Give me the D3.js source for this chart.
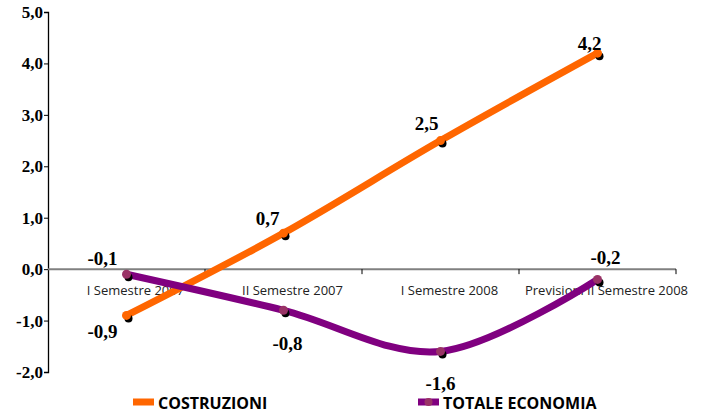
<!DOCTYPE html>
<html>
<head>
<meta charset="utf-8">
<script src="https://cdn.jsdelivr.net/npm/d3@7"></script>
<style>
  body { margin: 0; background: #fff; }
  svg { display: block; }
</style>
</head>
<body>
<svg id="chart" width="704" height="413"></svg>
<script>
// Semester categories and the two series (% change)
const categories = ["I Semestre 2007", "II Semestre 2007", "I Semestre 2008", "Previsioni II Semestre 2008"];
const costruzioni = [-0.9, 0.7, 2.5, 4.2];
const totaleEconomia = [-0.1, -0.8, -1.6, -0.2];
const yTicks = [-2, -1, 0, 1, 2, 3, 4, 5];
const seriesNames = ["COSTRUZIONI", "TOTALE ECONOMIA"];

const fmt = v => d3.format(".1f")(v).replace(".", ",").replace("−", "-");

const svg = d3.select("#chart");
const plotLeft = 48, plotRight = 676, plotTop = 12, plotBottom = 372;

const x = d3.scaleBand().domain(categories).range([plotLeft, plotRight]).padding(0);
const y = d3.scaleLinear().domain([-2, 5]).range([plotBottom, plotTop]);
const cx = c => x(c) + x.bandwidth() / 2;

// Y axis
const yAxis = svg.append("g")
  .attr("transform", `translate(${plotLeft},0)`)
  .call(d3.axisLeft(y).tickValues(yTicks).tickFormat(fmt).tickSizeOuter(0).tickSize(4));
yAxis.select(".domain").attr("stroke", "#000").attr("stroke-width", 1.3);
yAxis.selectAll(".tick line").attr("stroke", "#000");
yAxis.selectAll(".tick text")
  .attr("x", -5)
  .attr("font-family", "'Liberation Serif', serif")
  .attr("font-weight", "bold")
  .attr("font-size", 17)
  .attr("fill", "#000");

// X axis on the zero line, ticks at category boundaries
const xAxisG = svg.append("g").attr("transform", `translate(0,${y(0)})`);
xAxisG.append("line")
  .attr("x1", plotLeft).attr("x2", plotRight)
  .attr("stroke", "#808080").attr("stroke-width", 2);
const bounds = categories.map(c => x(c)).concat([plotRight]);
xAxisG.selectAll("line.tk").data(bounds.slice(1)).join("line")
  .attr("class", "tk")
  .attr("x1", d => d).attr("x2", d => d)
  .attr("y1", 0).attr("y2", 5)
  .attr("stroke", "#000").attr("stroke-width", 1);
xAxisG.selectAll("text").data(categories).join("text")
  .attr("x", d => cx(d) + 9)
  .attr("y", 26)
  .attr("text-anchor", "middle")
  .attr("font-family", "'Open Sans', sans-serif")
  .attr("font-size", 13)
  .attr("fill", "#222")
  .text(d => d);

const curve = d3.curveCatmullRom.alpha(0);
const line = d3.line().x(d => cx(d.c)).y(d => y(d.v)).curve(curve);

const series = [
  { name: seriesNames[0], values: costruzioni, color: "#ff6600", marker: "#ff6600" },
  { name: seriesNames[1], values: totaleEconomia, color: "#800080", marker: "#993366" }
];

series.forEach(s => {
  const pts = s.values.map((v, i) => ({ c: categories[i], v }));
  svg.append("path")
    .datum(pts)
    .attr("d", line)
    .attr("fill", "none")
    .attr("stroke", s.color)
    .attr("stroke-width", 7)
    .attr("stroke-linecap", "round");
  // marker shadows
  svg.append("g").selectAll("circle").data(pts).join("circle")
    .attr("cx", d => cx(d.c) + 2)
    .attr("cy", d => y(d.v) + 3)
    .attr("r", 4)
    .attr("fill", "#000");
  svg.append("g").selectAll("circle").data(pts).join("circle")
    .attr("cx", d => cx(d.c))
    .attr("cy", d => y(d.v))
    .attr("r", 4.5)
    .attr("fill", s.marker);
});

// Value labels: offsets per series and point
const labelOffsets = [
  [[-24, 16], [-16, -15], [-14, -17], [-8, -10]],
  [[-24, -16], [4, 33], [0, 32], [8, -22]]
];
series.forEach((s, si) => {
  svg.append("g").selectAll("text").data(s.values).join("text")
    .attr("x", (v, i) => cx(categories[i]) + labelOffsets[si][i][0])
    .attr("y", (v, i) => y(v) + labelOffsets[si][i][1])
    .attr("text-anchor", "middle")
    .attr("dominant-baseline", "central")
    .attr("font-family", "'Liberation Serif', serif")
    .attr("font-weight", "bold")
    .attr("font-size", 19)
    .attr("fill", "#000")
    .text(v => fmt(v));
});

// Legend
const legend = svg.append("g").attr("transform", "translate(0,402)");
const legendX = [133, 418];
series.forEach((s, i) => {
  const g = legend.append("g").attr("transform", `translate(${legendX[i]},0)`);
  g.append("rect").attr("x", 0).attr("y", -3.5).attr("width", 21).attr("height", 7).attr("fill", s.color);
  if (i === 1) g.append("circle").attr("cx", 10.5).attr("cy", 0).attr("r", 4).attr("fill", s.marker);
  g.append("text")
    .attr("x", 25).attr("y", 1)
    .attr("dominant-baseline", "central")
    .attr("font-family", "'Open Sans', sans-serif")
    .attr("font-weight", "bold")
    .attr("font-size", 16)
    .attr("fill", "#000")
    .text(s.name);
});
</script>
</body>
</html>
